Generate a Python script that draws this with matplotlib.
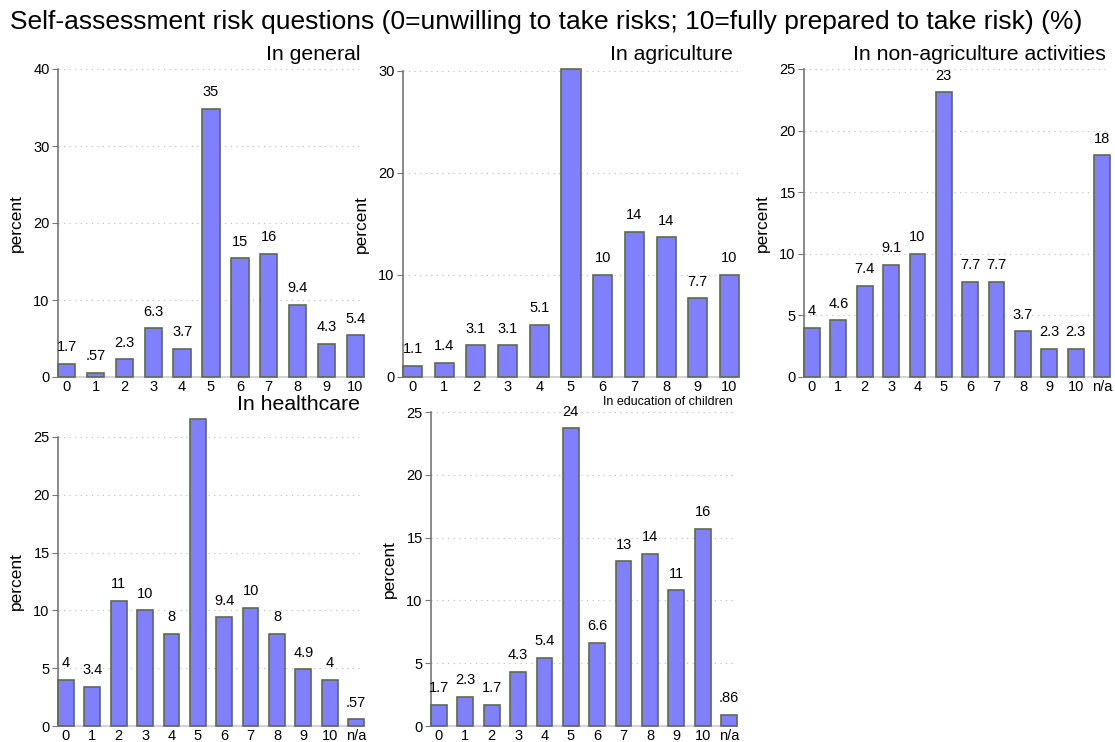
import matplotlib
matplotlib.use("Agg")
import matplotlib.pyplot as plt

plt.rcParams['font.family'] = ['Liberation Sans', 'DejaVu Sans']

scores = ["0", "1", "2", "3", "4", "5", "6", "7", "8", "9", "10"]
scores_na = scores + ["n/a"]

general = [1.7, 0.57, 2.3, 6.3, 3.7, 34.8, 15.4, 16.0, 9.4, 4.3, 5.4]
agriculture = [1.1, 1.4, 3.1, 3.1, 5.1, 30.2, 10.0, 14.2, 13.7, 7.7, 10.0]
non_agri = [4.0, 4.6, 7.4, 9.1, 10.0, 23.1, 7.7, 7.7, 3.7, 2.3, 2.3, 18.0]
healthcare = [4.0, 3.4, 10.8, 10.0, 8.0, 26.6, 9.4, 10.2, 8.0, 4.9, 4.0, 0.57]
education = [1.7, 2.3, 1.7, 4.3, 5.4, 23.7, 6.6, 13.1, 13.7, 10.8, 15.7, 0.86]

W, H = 1115, 742
fig = plt.figure(figsize=(W / 100, H / 100), dpi=100)


def fmt(v):
    s = "%.2g" % v
    if s.startswith("0."):
        s = s[1:]
    return s


# title, values, labels, ymax, yticks, axes box px (left, top, right, bottom), title size, title y, title right
panels = [
    ("In general", general, scores, 40, [0, 10, 20, 30, 40], (58, 69, 364, 377), 15.3, 55, 360),
    ("In agriculture", agriculture, scores, 30, [0, 10, 20, 30], (403, 71, 739, 377), 15.3, 55, 733),
    ("In non-agriculture activities", non_agri, scores_na, 25, [0, 5, 10, 15, 20, 25], (804, 69, 1110, 377), 15.3, 55, 1106),
    ("In healthcare", healthcare, scores_na, 25, [0, 5, 10, 15, 20, 25], (58, 437, 364, 726), 15.3, 404, 360),
    ("In education of children", education, scores_na, 25, [0, 5, 10, 15, 20, 25], (431, 412, 737, 726), 9, 402, 733),
]

for title, vals, cats, ymax, yticks, box, tsize, ty, tx in panels:
    l, t, r, b = box
    ax = fig.add_axes([l / W, 1 - b / H, (r - l) / W, (b - t) / H])
    x = list(range(len(vals)))
    ax.bar(x, vals, width=0.6, color="#8080ff", edgecolor="#5c6b52",
           linewidth=1.2, clip_on=False, zorder=3)
    for xi, v in zip(x, vals):
        ax.annotate(fmt(v), (xi, v), xytext=(0, 7), textcoords="offset points",
                    ha="center", va="bottom", fontsize=10.5, zorder=4)
    ax.set_xlim(-0.3, len(vals) - 0.7)
    ax.set_ylim(0, ymax)
    ax.set_yticks(yticks)
    ax.set_xticks(x)
    ax.set_xticklabels(cats)
    ax.tick_params(axis="x", length=0, pad=2, labelsize=10.5)
    ax.tick_params(axis="y", length=4, color="#777777", labelsize=10.5, pad=2)
    ax.set_ylabel("percent", fontsize=12.5, labelpad=7)
    ax.grid(axis="y", linestyle=(0, (1, 4)), color="#bbbbbb", linewidth=0.8, zorder=0)
    for s in ["top", "right"]:
        ax.spines[s].set_visible(False)
    ax.spines["left"].set_color("#777777")
    ax.spines["left"].set_linewidth(1.2)
    ax.spines["bottom"].set_color("#cccccc")
    ax.spines["bottom"].set_linewidth(1.2)
    fig.text(tx / W, 1 - ty / H, title, ha="right", va="center", fontsize=tsize)

fig.text(0.49, 1 - 22 / H,
         "Self-assessment risk questions (0=unwilling to take risks; 10=fully prepared to take risk) (%)",
         ha="center", va="center", fontsize=19)

fig.savefig("out.png", dpi=100)
